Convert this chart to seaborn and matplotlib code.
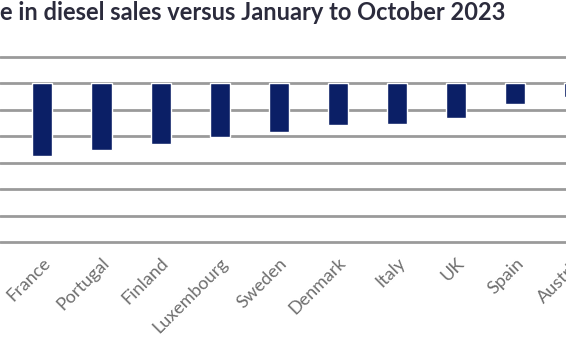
import matplotlib
matplotlib.use("Agg")
import matplotlib.pyplot as plt
import seaborn as sns
import pandas as pd

countries = ["France", "Portugal", "Finland", "Luxembourg", "Sweden",
             "Denmark", "Italy", "UK", "Spain", "Austria"]
change_pct = [-13.7, -12.5, -11.4, -10.1, -9.2, -7.8, -7.6, -6.6, -3.8, -2.5]
title_text = "e in diesel sales versus January to October 2023"
grid_ticks = [5, 0, -5, -10, -15, -20, -25, -30]

df = pd.DataFrame({"country": countries, "change": change_pct})

sns.set_theme(style="white")
plt.rcParams["font.family"] = ["Lato", "DejaVu Sans"]

W, H = 566, 355
fig = plt.figure(figsize=(W / 100, H / 100), dpi=100)

# axes geometry in pixels (the chart is cropped on both sides)
px_per_cat = 59.1
x0_px = 42.4
px_per_unit = 26.5 / 5
ytop_val, ybot_val = 5.6, -30.6
ytop_px = 57 - (ytop_val - 5) * px_per_unit
ybot_px = 242 + (-30 - ybot_val) * px_per_unit
xmin = -x0_px / px_per_cat
xmax = len(countries) - 0.5
ax_w_px = (xmax - xmin) * px_per_cat
ax = fig.add_axes([0, (H - ybot_px) / H, ax_w_px / W, (ybot_px - ytop_px) / H])

sns.barplot(data=df, x="country", y="change", color="#0b1f66",
            saturation=1, width=0.34, ax=ax, zorder=3)

ax.set_xlim(xmin, xmax)
ax.set_ylim(ybot_val, ytop_val)
ax.set_yticks(grid_ticks)
ax.set_yticklabels([])
ax.tick_params(axis="y", length=0)
ax.grid(axis="y", color="#9a9a9a", linewidth=2.0, zorder=0)
ax.set_axisbelow(True)
for s in ax.spines.values():
    s.set_visible(False)
ax.set_xlabel("")
ax.set_ylabel("")
ax.tick_params(axis="x", length=0, pad=7, labelsize=13, labelcolor="#6e6e6e")
for lbl in ax.get_xticklabels():
    lbl.set_rotation(45)
    lbl.set_ha("right")
    lbl.set_rotation_mode("anchor")

t = fig.text(0.0, 1 - 20 / H, title_text, ha="left", va="baseline",
             fontsize=15, fontweight="bold", color="#2b2b3c")
fig.canvas.draw()
w = t.get_window_extent().width
t.set_fontsize(15 * 506 / w)

fig.savefig("out.png", dpi=100)
